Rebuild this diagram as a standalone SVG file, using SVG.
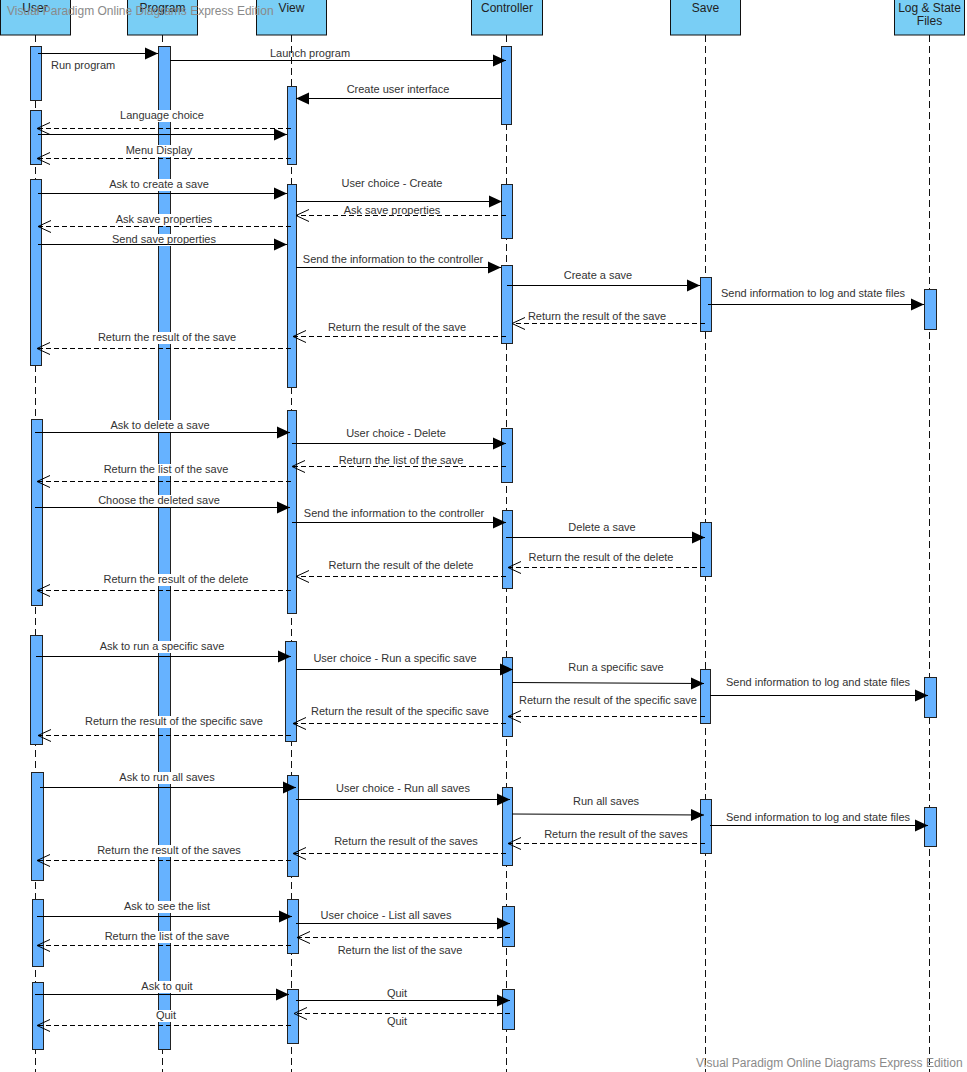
<svg xmlns="http://www.w3.org/2000/svg" width="967" height="1072" viewBox="0 0 967 1072">
<style>
.hd{fill:#79CEF5;stroke:#111;stroke-width:1}
.ht{font-family:"Liberation Sans",Arial,sans-serif;font-size:12px;fill:#222;text-anchor:middle}
.ll{stroke:#111;stroke-width:1;stroke-dasharray:7,4;fill:none}
.act{fill:#66B2FF;stroke:#222;stroke-width:1}
.m{stroke:#000;stroke-width:1;fill:none;marker-end:url(#fa)}
.r{stroke:#000;stroke-width:1;fill:none;stroke-dasharray:5,3;marker-end:url(#oa)}
.lb{font-family:"Liberation Sans",Arial,sans-serif;font-size:11px;fill:#333;text-anchor:middle}
.bg{fill:#fff}
.wm{font-family:"Liberation Sans",Arial,sans-serif;font-size:12px;fill:#8a8a8a}
</style>
<defs>
<marker id="fa" markerUnits="userSpaceOnUse" markerWidth="14" markerHeight="14" refX="13" refY="6" orient="auto" overflow="visible"><path d="M0,0 L13,6 L0,12 Z" fill="#000"/></marker>
<marker id="oa" markerUnits="userSpaceOnUse" markerWidth="14" markerHeight="14" refX="13" refY="6" orient="auto" overflow="visible"><path d="M0,0 L13,6 L0,12" fill="none" stroke="#000" stroke-width="1"/></marker>
</defs>

<g id="user">
<rect class="hd" x="0.5" y="-1" width="70" height="36"/>
<text class="ht" x="35" y="12">User</text>
<line class="ll" x1="35.5" y1="35" x2="35.5" y2="1072"/>
<rect class="act" x="30.5" y="46.5" width="11" height="54"/>
<rect class="act" x="30.5" y="110.5" width="11" height="54"/>
<rect class="act" x="30.5" y="179.5" width="11" height="186"/>
<rect class="act" x="31.5" y="419.5" width="11" height="186"/>
<rect class="act" x="30.5" y="635.5" width="12" height="109"/>
<rect class="act" x="31.5" y="772.5" width="12" height="108"/>
<rect class="act" x="32.5" y="899.5" width="11" height="67"/>
<rect class="act" x="32.5" y="982.5" width="11" height="67"/>
</g>

<g id="program">
<rect class="hd" x="127.5" y="-1" width="70" height="36"/>
<text class="ht" x="162.5" y="12">Program</text>
<line class="ll" x1="162.5" y1="35" x2="162.5" y2="1072"/>
<rect class="act" x="158.5" y="46.5" width="12" height="1003"/>
</g>

<g id="view">
<rect class="hd" x="256.5" y="-1" width="70" height="36"/>
<text class="ht" x="291.5" y="12">View</text>
<line class="ll" x1="291.5" y1="35" x2="291.5" y2="1072"/>
<rect class="act" x="287.5" y="86.5" width="9" height="78"/>
<rect class="act" x="287.5" y="184.5" width="9" height="203"/>
<rect class="act" x="287.5" y="410.5" width="9" height="203"/>
<rect class="act" x="285.5" y="641.5" width="11" height="100"/>
<rect class="act" x="287.5" y="775.5" width="11" height="101"/>
<rect class="act" x="287.5" y="899.5" width="11" height="54"/>
<rect class="act" x="287.5" y="989.5" width="11" height="54"/>
</g>

<g id="controller">
<rect class="hd" x="471.5" y="-1" width="71" height="36"/>
<text class="ht" x="507" y="12">Controller</text>
<line class="ll" x1="506.5" y1="35" x2="506.5" y2="1072"/>
<rect class="act" x="501.5" y="46.5" width="10" height="78"/>
<rect class="act" x="501.5" y="184.5" width="11" height="54"/>
<rect class="act" x="501.5" y="265.5" width="11" height="78"/>
<rect class="act" x="501.5" y="428.5" width="11" height="54"/>
<rect class="act" x="502.5" y="510.5" width="10" height="78"/>
<rect class="act" x="502.5" y="657.5" width="10" height="79"/>
<rect class="act" x="502.5" y="787.5" width="10" height="78"/>
<rect class="act" x="502.5" y="906.5" width="12" height="40"/>
<rect class="act" x="502.5" y="989.5" width="12" height="40"/>
</g>

<g id="save">
<rect class="hd" x="670.5" y="-1" width="70" height="36"/>
<text class="ht" x="705.5" y="12">Save</text>
<line class="ll" x1="705.5" y1="35" x2="705.5" y2="1072"/>
<rect class="act" x="700.5" y="277.5" width="11" height="54"/>
<rect class="act" x="700.5" y="522.5" width="11" height="54"/>
<rect class="act" x="700.5" y="669.5" width="10" height="54"/>
<rect class="act" x="700.5" y="799.5" width="11" height="54"/>
</g>

<g id="logfiles">
<rect class="hd" x="894.5" y="-1" width="70" height="36"/>
<text class="ht" x="929.5" y="12">Log &amp; State</text>
<text class="ht" x="929.5" y="25">Files</text>
<line class="ll" x1="929.5" y1="35" x2="929.5" y2="1072"/>
<rect class="act" x="924.5" y="289.5" width="12" height="40"/>
<rect class="act" x="924.5" y="677.5" width="12" height="40"/>
<rect class="act" x="924.5" y="807.5" width="12" height="39"/>
</g>

<g id="label-backgrounds">
<rect class="bg" x="120" y="110" width="84" height="12"/>
<rect class="bg" x="124" y="145" width="70" height="12"/>
<rect class="bg" x="108" y="179" width="102" height="12"/>
<rect class="bg" x="114" y="214" width="100" height="12"/>
<rect class="bg" x="112" y="234" width="104" height="12"/>
<rect class="bg" x="97" y="332" width="140" height="12"/>
<rect class="bg" x="109" y="420" width="102" height="12"/>
<rect class="bg" x="102" y="464" width="128" height="12"/>
<rect class="bg" x="97" y="495" width="124" height="12"/>
<rect class="bg" x="103" y="574" width="146" height="12"/>
<rect class="bg" x="99" y="641" width="126" height="12"/>
<rect class="bg" x="84" y="716" width="180" height="12"/>
<rect class="bg" x="119" y="772" width="96" height="12"/>
<rect class="bg" x="97" y="845" width="144" height="12"/>
<rect class="bg" x="123" y="901" width="88" height="12"/>
<rect class="bg" x="103" y="931" width="128" height="12"/>
<rect class="bg" x="140" y="981" width="54" height="12"/>
<rect class="bg" x="152" y="1010" width="28" height="12"/>
</g>

<g id="connectors">
<line class="m" x1="38" y1="53.5" x2="158" y2="53.5"/>
<line class="m" x1="170" y1="60.5" x2="506" y2="60.5"/>
<line class="m" x1="501" y1="98.5" x2="296" y2="98.5"/>
<line class="r" x1="291" y1="128.5" x2="37" y2="128.5"/>
<line class="m" x1="38" y1="134.5" x2="287" y2="134.5"/>
<line class="r" x1="291" y1="158.5" x2="37" y2="158.5"/>

<line class="m" x1="38" y1="193.5" x2="287" y2="193.5"/>
<line class="m" x1="296" y1="201.5" x2="502" y2="201.5"/>
<line class="r" x1="506" y1="215.5" x2="296" y2="215.5"/>
<line class="r" x1="291" y1="226.5" x2="38" y2="226.5"/>
<line class="m" x1="38" y1="244.5" x2="287" y2="244.5"/>
<line class="m" x1="296" y1="267.5" x2="501" y2="267.5"/>
<line class="m" x1="507" y1="285.5" x2="700" y2="285.5"/>
<line class="m" x1="708" y1="304.5" x2="924" y2="304.5"/>
<line class="r" x1="705" y1="323.5" x2="512" y2="323.5"/>
<line class="r" x1="506" y1="336.5" x2="293" y2="336.5"/>
<line class="r" x1="291" y1="348.5" x2="37" y2="348.5"/>

<line class="m" x1="35" y1="432.5" x2="290" y2="432.5"/>
<line class="m" x1="292" y1="443.5" x2="506" y2="443.5"/>
<line class="r" x1="506" y1="466.5" x2="292" y2="466.5"/>
<line class="r" x1="291" y1="481.5" x2="37" y2="481.5"/>
<line class="m" x1="35" y1="507.5" x2="290" y2="507.5"/>
<line class="m" x1="292" y1="522.5" x2="506" y2="522.5"/>
<line class="m" x1="506" y1="537.5" x2="705" y2="537.5"/>
<line class="r" x1="705" y1="567.5" x2="508" y2="567.5"/>
<line class="r" x1="506" y1="576.5" x2="296" y2="576.5"/>
<line class="r" x1="291" y1="590.5" x2="37" y2="590.5"/>

<line class="m" x1="36" y1="656.5" x2="291" y2="656.5"/>
<line class="m" x1="296" y1="669.5" x2="513" y2="669.5"/>
<line class="m" x1="512" y1="682.5" x2="704" y2="683.5"/>
<line class="m" x1="710" y1="695.5" x2="928" y2="695.5"/>
<line class="r" x1="705" y1="716.5" x2="508" y2="716.5"/>
<line class="r" x1="506" y1="723.5" x2="293" y2="723.5"/>
<line class="r" x1="291" y1="735.5" x2="38" y2="735.5"/>

<line class="m" x1="40" y1="787.5" x2="296" y2="787.5"/>
<line class="m" x1="296" y1="799.5" x2="510" y2="799.5"/>
<line class="m" x1="512" y1="814" x2="704" y2="815"/>
<line class="m" x1="710" y1="825.5" x2="928" y2="825.5"/>
<line class="r" x1="705" y1="843.5" x2="508" y2="843.5"/>
<line class="r" x1="506" y1="853.5" x2="293" y2="853.5"/>
<line class="r" x1="291" y1="860.5" x2="37" y2="860.5"/>

<line class="m" x1="37" y1="916.5" x2="292" y2="916.5"/>
<line class="m" x1="296" y1="923.5" x2="510" y2="923.5"/>
<line class="r" x1="510" y1="937.5" x2="297" y2="937.5"/>
<line class="r" x1="291" y1="945.5" x2="37" y2="945.5"/>

<line class="m" x1="35" y1="994.5" x2="289" y2="994.5"/>
<line class="m" x1="296" y1="1000.5" x2="510" y2="1000.5"/>
<line class="r" x1="510" y1="1013.5" x2="294" y2="1013.5"/>
<line class="r" x1="291" y1="1025.5" x2="37" y2="1025.5"/>
</g>

<g id="connector-labels">
<text class="lb" x="51" y="69" style="text-anchor:start">Run program</text>
<text class="lb" x="310" y="57">Launch program</text>
<text class="lb" x="398" y="93">Create user interface</text>
<text class="lb" x="162" y="119">Language choice</text>
<text class="lb" x="159" y="154">Menu Display</text>

<text class="lb" x="159" y="188">Ask to create a save</text>
<text class="lb" x="392" y="187">User choice - Create</text>
<text class="lb" x="392" y="214">Ask save properties</text>
<text class="lb" x="164" y="223">Ask save properties</text>
<text class="lb" x="164" y="243">Send save properties</text>
<text class="lb" x="393" y="263">Send the information to the controller</text>
<text class="lb" x="598" y="279">Create a save</text>
<text class="lb" x="813" y="297">Send information to log and state files</text>
<text class="lb" x="597" y="320">Return the result of the save</text>
<text class="lb" x="397" y="331">Return the result of the save</text>
<text class="lb" x="167" y="341">Return the result of the save</text>

<text class="lb" x="160" y="429">Ask to delete a save</text>
<text class="lb" x="396" y="437">User choice - Delete</text>
<text class="lb" x="401" y="464">Return the list of the save</text>
<text class="lb" x="166" y="473">Return the list of the save</text>
<text class="lb" x="159" y="504">Choose the deleted save</text>
<text class="lb" x="394" y="517">Send the information to the controller</text>
<text class="lb" x="602" y="531">Delete a save</text>
<text class="lb" x="601" y="561">Return the result of the delete</text>
<text class="lb" x="401" y="569">Return the result of the delete</text>
<text class="lb" x="176" y="583">Return the result of the delete</text>

<text class="lb" x="162" y="650">Ask to run a specific save</text>
<text class="lb" x="395" y="662">User choice - Run a specific save</text>
<text class="lb" x="616" y="671">Run a specific save</text>
<text class="lb" x="818" y="686">Send information to log and state files</text>
<text class="lb" x="608" y="704">Return the result of the specific save</text>
<text class="lb" x="400" y="715">Return the result of the specific save</text>
<text class="lb" x="174" y="725">Return the result of the specific save</text>

<text class="lb" x="167" y="781">Ask to run all saves</text>
<text class="lb" x="403" y="792">User choice - Run all saves</text>
<text class="lb" x="606" y="805">Run all saves</text>
<text class="lb" x="818" y="821">Send information to log and state files</text>
<text class="lb" x="616" y="838">Return the result of the saves</text>
<text class="lb" x="406" y="845">Return the result of the saves</text>
<text class="lb" x="169" y="854">Return the result of the saves</text>

<text class="lb" x="167" y="910">Ask to see the list</text>
<text class="lb" x="386" y="919">User choice - List all saves</text>
<text class="lb" x="400" y="954">Return the list of the save</text>
<text class="lb" x="167" y="940">Return the list of the save</text>

<text class="lb" x="167" y="990">Ask to quit</text>
<text class="lb" x="397" y="997">Quit</text>
<text class="lb" x="397" y="1025">Quit</text>
<text class="lb" x="166" y="1019">Quit</text>
</g>

<g id="watermarks">
<text class="wm" x="7" y="15">Visual Paradigm Online Diagrams Express Edition</text>
<text class="wm" x="696" y="1067">Visual Paradigm Online Diagrams Express Edition</text>
</g>
</svg>
